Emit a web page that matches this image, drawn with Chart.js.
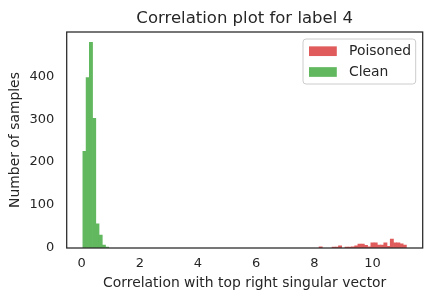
<!DOCTYPE html>
<html>
<head>
<meta charset="utf-8">
<script src="https://cdn.jsdelivr.net/npm/chart.js@4.4.1/dist/chart.umd.min.js"></script>
<style>
  html, body { margin: 0; padding: 0; background: #ffffff; }
  #wrap { width: 432px; height: 301px; }
</style>
</head>
<body>
<div id="wrap"><canvas id="chart" width="432" height="301"></canvas></div>
<script>
// histogram bins (100 equal bins over the data range)
const binStart = 0.04;
const binWidth = 0.1113;

const cleanBins = [0, 1, 2, 3, 4, 5, 6, 7];
const cleanCounts = [225, 397, 479, 302, 56, 30, 7, 2];

const poisonedBins = [73, 77, 78, 79, 81, 82, 83, 84, 85, 86, 87, 88, 89, 90, 91, 92, 93, 94, 95, 96, 97, 98, 99];
const poisonedCounts = [3, 2, 2, 5, 2, 2, 3, 5, 9, 9, 6, 3, 12, 12, 7, 7, 12, 4, 21, 12, 12, 10, 7];

const xTicks = [0, 2, 4, 6, 8, 10];
const yTicks = [0, 100, 200, 300, 400];

const FONT = 'DejaVu Sans';
const INK = '#262626';
const TITLE = 'Correlation plot for label 4';

function toPoints(bins, counts) {
  return bins.map((b, i) => ({ x: binStart + (b + 0.5) * binWidth, y: counts[i] }));
}

// box round the plot (all four spines) + title centred over the axes
const framePlugin = {
  id: 'frame',
  afterDatasetsDraw(chart) {
    const { ctx, chartArea: a } = chart;
    ctx.save();
    ctx.strokeStyle = INK;
    ctx.lineWidth = 1.25;
    ctx.strokeRect(a.left, a.top, a.right - a.left, a.bottom - a.top);
    ctx.font = '16.5px "' + FONT + '"';
    ctx.fillStyle = INK;
    ctx.textAlign = 'center';
    ctx.textBaseline = 'alphabetic';
    ctx.fillText(TITLE, (a.left + a.right) / 2, a.top - 8.6);
    ctx.restore();
  }
};

// legend inside the axes, upper right
const insideLegend = {
  id: 'insideLegend',
  afterDraw(chart) {
    const { ctx, chartArea: a } = chart;
    const boxW = 112.7, boxH = 45;
    const x0 = a.right - 7 - boxW, y0 = a.top + 7;
    ctx.save();
    ctx.beginPath();
    ctx.roundRect(x0, y0, boxW, boxH, 3);
    ctx.fillStyle = 'rgba(255,255,255,0.8)';
    ctx.fill();
    ctx.strokeStyle = '#cccccc';
    ctx.lineWidth = 1;
    ctx.stroke();
    ctx.font = '13.9px "' + FONT + '"';
    ctx.textBaseline = 'middle';
    ctx.textAlign = 'left';
    chart.data.datasets.forEach((ds, i) => {
      const cy = y0 + 12.2 + i * 20.8;
      ctx.fillStyle = ds.backgroundColor;
      ctx.fillRect(x0 + 6, cy - 4.85, 27.8, 9.7);
      ctx.fillStyle = INK;
      ctx.fillText(ds.label, x0 + 46, cy + 0.5);
    });
    ctx.restore();
  }
};

new Chart(document.getElementById('chart'), {
  type: 'bar',
  data: {
    datasets: [
      {
        label: 'Poisoned',
        data: toPoints(poisonedBins, poisonedCounts),
        backgroundColor: '#e05c5c',
      },
      {
        label: 'Clean',
        data: toPoints(cleanBins, cleanCounts),
        backgroundColor: '#62b85f',
      }
    ]
  },
  options: {
    responsive: false,
    animation: false,
    layout: { padding: { left: 0, right: 9.3, top: 32, bottom: 0 } },
    datasets: {
      bar: {
        grouped: false,
        barPercentage: 1,
        categoryPercentage: 1,
        borderWidth: 0,
      }
    },
    scales: {
      x: {
        type: 'linear',
        offset: false,
        min: -0.516,
        max: 11.73,
        grid: { display: false, drawTicks: false },
        border: { display: false },
        afterBuildTicks(scale) { scale.ticks = xTicks.map(v => ({ value: v })); },
        afterFit(scale) { scale.height = 53; },
        ticks: {
          padding: 8,
          color: INK,
          font: { family: FONT, size: 13 },
        },
        title: {
          display: true,
          text: 'Correlation with top right singular vector',
          color: INK,
          font: { family: FONT, size: 13.9 },
          padding: { top: 0, bottom: 9.2 },
        }
      },
      y: {
        type: 'linear',
        min: 0,
        max: 503,
        grid: { display: false, drawTicks: false },
        border: { display: false },
        afterBuildTicks(scale) { scale.ticks = yTicks.map(v => ({ value: v })); },
        afterFit(scale) { scale.width = 66.7; },
        ticks: {
          padding: 12.5,
          color: INK,
          font: { family: FONT, size: 13 },
        },
        title: {
          display: true,
          text: 'Number of samples',
          color: INK,
          font: { family: FONT, size: 13.9 },
          padding: { top: 7.4, bottom: 0 },
        }
      }
    },
    plugins: {
      legend: { display: false },
      tooltip: { enabled: false },
      title: { display: false }
    }
  },
  plugins: [framePlugin, insideLegend]
});
</script>
</body>
</html>
